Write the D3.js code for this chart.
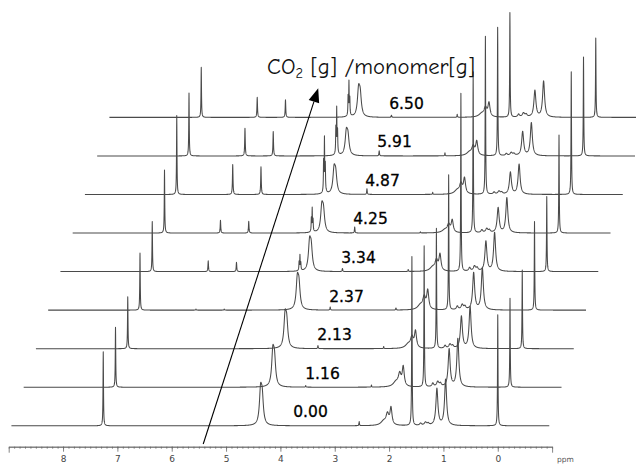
<!DOCTYPE html>
<html><head><meta charset="utf-8">
<script src="https://cdn.jsdelivr.net/npm/d3@7"></script>
<style>body{margin:0;background:#fff}svg{display:block}</style>
</head><body><svg id="c" width="636" height="466"></svg>
<script>
// ---- data ----
const samples = ["0.00","1.16","2.13","2.37","3.34","4.25","4.87","5.91","6.50"];
const axisTicks = [8,7,6,5,4,3,2,1,0];
const ppmDomain = [9, -1];
// peak heights (intensity units) of each resonance, spectrum by spectrum (bottom to top)
const hCHCl3    = [74, 60, 52, 57, 50, 63, 79, 63, 50];
const hVinylA   = [0, 0, 0, 1, 10.7, 12.7, 30, 27.7, 20];
const hVinylB   = [0, 0, 0, 1, 9.3, 11.7, 27.7, 24.3, 17.7];
const hOCH2mono = [0, 0, 0, 0, 13, 20, 46, 39, 29];
const hOCH2poly = [42.7, 42, 39, 37, 35, 31.6, 30, 28, 33];
const hSmall376 = [0, 1.5, 3, 3, 3, 6, 5.7, 5, 2];
const hSmall255 = [4, 2, 2, 2, 2, 1, 2, 3, 3];
const hCH2      = [21, 23.7, 20.5, 23, 20, 15, 19, 17, 17];
const hWater    = [169, 141, 120, 135, 178, 161, 158, 128.5, 104.5];
const hBumps    = [3, 5, 4, 5, 5, 4, 3, 3, 4];
const hCH3a     = [36.7, 37.7, 32, 37, 30, 25, 22, 24, 26.5];
const hCH3b     = [46, 48.3, 42, 42, 38.7, 35, 30, 33, 36];
const hTMS      = [111, 89, 78.6, 88.5, 75, 98, 122.7, 99, 79.4];

// resonance components: [ppm, half-width (ppm), relative share, height array]
const components = [
  [7.26, 0.005, 1.0, hCHCl3],
  [6.23, 0.006, 1.0, hVinylA],
  [5.71, 0.006, 1.0, hVinylB],
  [4.558, 0.004, 0.6, hOCH2mono],
  [4.542, 0.004, 1.0, hOCH2mono],
  [4.526, 0.004, 0.5, hOCH2mono],
  [4.54, 0.02, 0.2, hOCH2mono],
  [4.365, 0.025, 0.75, hOCH2poly],
  [4.335, 0.025, 0.6, hOCH2poly],
  [3.76, 0.006, 1.0, hSmall376],
  [2.55, 0.005, 1.0, hSmall255],
  [2.10, 0.06, 0.2, hCH2],
  [2.03, 0.03, 0.5, hCH2],
  [1.965, 0.022, 0.8, hCH2],
  [1.58, 0.005, 1.0, hWater],
  [1.42, 0.02, 0.7, hBumps],
  [1.33, 0.025, 1.0, hBumps],
  [1.28, 0.02, 0.6, hBumps],
  [1.12, 0.022, 1.0, hCH3a],
  [0.96, 0.022, 1.0, hCH3b],
  [0.0, 0.005, 1.0, hTMS]
];

// ---- scales ----
const svg = d3.select("#c");
const x = d3.scaleLinear().domain(ppmDomain).range([8.7, 552.1]);
const idx = d3.scaleLinear().domain([0, 8]);
const baseY = idx.copy().range([425.8, 117.4]);
const shiftX = idx.copy().range([0, 98]);
const hScale = d3.scaleLinear().domain([0, 100]).range([0, 100]);
const labX = idx.copy().range([310.5, 406.5]);
const labY = idx.copy().range([417.3, 108.5]);

// ---- spectra ----
const grid = d3.range(8.95, -0.95, -0.002);
samples.forEach((s, i) => {
  const pts = grid.concat(components.map(c => c[0])).sort((a, b) => b - a);
  const data = pts.map(p => {
    let v = 0;
    components.forEach(([p0, w, f, arr]) => {
      const h = arr[i] * f;
      if (h > 0) { const d = (p - p0) / w; v += h / (1 + d * d); }
    });
    return [p, v];
  });
  const line = d3.line()
    .x(d => x(d[0]) + shiftX(i))
    .y(d => baseY(i) - hScale(d[1]));
  svg.append("path").attr("d", line(data))
    .attr("fill", "none").attr("stroke", "#4a4a4a")
    .attr("stroke-width", 1.05).attr("stroke-linejoin", "round");
  svg.append("text").attr("x", labX(i)).attr("y", labY(i))
    .attr("text-anchor", "middle")
    .attr("font-family", "DejaVu Sans, Verdana, sans-serif")
    .attr("font-size", 15.5).attr("fill", "#000")
    .attr("stroke", "#000").attr("stroke-width", 0.3).text(s);
});

// ---- ppm axis (ruler) ----
const gAx = svg.append("g").attr("transform", "translate(0,446.7)");
gAx.call(d3.axisBottom(x).tickValues(d3.range(-10, 91).map(v => v / 10)).tickSize(2).tickSizeOuter(0).tickFormat(""));
gAx.append("g").call(d3.axisBottom(x).tickValues(axisTicks).tickSize(5).tickSizeOuter(6).tickPadding(4).tickFormat(d3.format("d")));
gAx.selectAll("path, line").attr("stroke", "#666").attr("stroke-width", 0.8);
gAx.selectAll("text").attr("font-family", "DejaVu Sans, sans-serif").attr("font-size", 9).attr("fill", "#444");
svg.append("text").attr("x", 557).attr("y", 462).attr("font-family", "DejaVu Sans, sans-serif")
  .attr("font-size", 7.5).attr("fill", "#555").text("ppm");

// ---- arrow + title ----
const a0 = [x(5.42), 444], a1 = [x(5.42) + 115, 88.3];
const ang = Math.atan2(a1[1] - a0[1], a1[0] - a0[0]);
const L = 14, W = 5.5;
const bx = a1[0] - L * Math.cos(ang), by = a1[1] - L * Math.sin(ang);
svg.append("line").attr("x1", a0[0]).attr("y1", a0[1]).attr("x2", bx).attr("y2", by)
  .attr("stroke", "#000").attr("stroke-width", 1.1);
svg.append("polygon").attr("points", [
  a1, [bx + W * Math.sin(ang), by - W * Math.cos(ang)], [bx - W * Math.sin(ang), by + W * Math.cos(ang)]
].map(p => p.join(",")).join(" ")).attr("fill", "#000");

const t = svg.append("text").attr("x", 267).attr("y", 74)
  .attr("font-family", "Comic Sans MS, Comic Neue, DejaVu Sans, sans-serif")
  .attr("font-size", 22).attr("fill", "#111")
  .attr("textLength", 208).attr("lengthAdjust", "spacingAndGlyphs");
t.append("tspan").text("CO");
t.append("tspan").attr("font-size", 14).attr("dy", 4).text("2");
t.append("tspan").attr("dy", -4).text(" [g] /monomer[g]");
</script></body></html>
